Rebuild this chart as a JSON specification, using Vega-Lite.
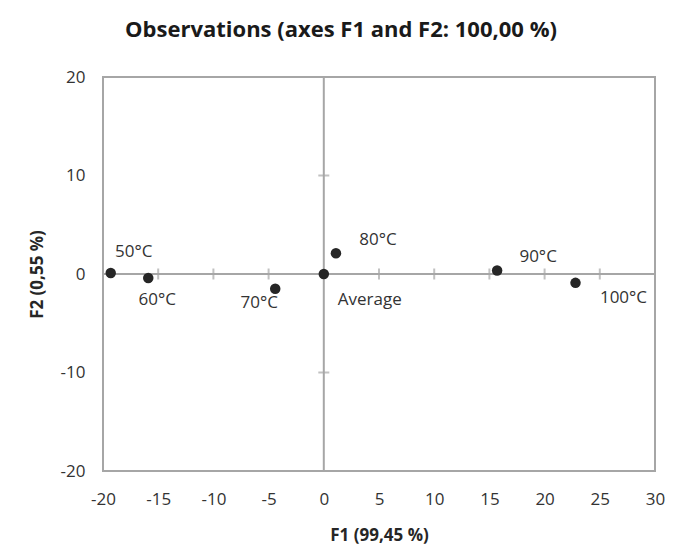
{
  "$schema": "https://vega.github.io/schema/vega-lite/v6.json",
  "width": 552,
  "height": 394,
  "autosize": {"type": "none"},
  "padding": {"left": 103, "top": 77, "right": 25, "bottom": 78},
  "background": "white",
  "title": {
    "text": "Observations (axes F1 and F2: 100,00 %)",
    "font": "Open Sans",
    "fontSize": 22,
    "fontWeight": "bold",
    "color": "#1a1a1a",
    "anchor": "middle",
    "offset": 26,
    "dx": -38
  },
  "datasets": {
    "obs": [
      {"label": "50°C", "F1": -19.3, "F2": 0.1},
      {"label": "60°C", "F1": -15.9, "F2": -0.4},
      {"label": "70°C", "F1": -4.4, "F2": -1.5},
      {"label": "Average", "F1": 0, "F2": 0},
      {"label": "80°C", "F1": 1.1, "F2": 2.1},
      {"label": "90°C", "F1": 15.7, "F2": 0.35},
      {"label": "100°C", "F1": 22.8, "F2": -0.9}
    ],
    "xticks": [
      {"v": -15}, {"v": -10}, {"v": -5}, {"v": 5}, {"v": 10}, {"v": 15}, {"v": 20}, {"v": 25}
    ],
    "yticks": [{"v": -10}, {"v": 10}]
  },
  "config": {
    "view": {"stroke": "#a6a6a6", "strokeWidth": 2},
    "axis": {
      "grid": false,
      "domain": false,
      "ticks": false,
      "labelFlush": false,
      "labelOverlap": false,
      "labelFont": "Open Sans",
      "labelFontSize": 17,
      "labelColor": "#333333",
      "labelExpr": "'' + datum.value",
      "titleFont": "Open Sans",
      "titleFontSize": 17,
      "titleFontWeight": "bold",
      "titleColor": "#262626"
    },
    "text": {"font": "Open Sans", "fontSize": 17, "color": "#333333", "baseline": "middle", "align": "center"}
  },
  "layer": [
    {
      "data": {"values": [{"z": 0}]},
      "mark": {"type": "rule", "color": "#a6a6a6", "strokeWidth": 2},
      "encoding": {"y": {"field": "z", "type": "quantitative", "scale": {"domain": [-20, 20]}}}
    },
    {
      "data": {"values": [{"z": 0}]},
      "mark": {"type": "rule", "color": "#a6a6a6", "strokeWidth": 2},
      "encoding": {"x": {"field": "z", "type": "quantitative", "scale": {"domain": [-20, 30]}}}
    },
    {
      "data": {"name": "xticks"},
      "mark": {"type": "tick", "orient": "vertical", "color": "#a6a6a6", "size": 11, "thickness": 2},
      "encoding": {
        "x": {"field": "v", "type": "quantitative"},
        "y": {"datum": 0, "type": "quantitative"}
      }
    },
    {
      "data": {"name": "yticks"},
      "mark": {"type": "tick", "orient": "horizontal", "color": "#a6a6a6", "size": 11, "thickness": 2},
      "encoding": {
        "y": {"field": "v", "type": "quantitative"},
        "x": {"datum": 0, "type": "quantitative"}
      }
    },
    {
      "data": {"name": "obs"},
      "layer": [
        {
          "mark": {"type": "point", "filled": true, "size": 110, "color": "#262626", "opacity": 1},
          "encoding": {
            "x": {
              "field": "F1", "type": "quantitative",
              "scale": {"domain": [-20, 30], "nice": false, "zero": false},
              "axis": {"values": [-20, -15, -10, -5, 0, 5, 10, 15, 20, 25, 30], "title": "F1 (99,45 %)", "labelPadding": 20, "titlePadding": 20}
            },
            "y": {
              "field": "F2", "type": "quantitative",
              "scale": {"domain": [-20, 20], "nice": false, "zero": false},
              "axis": {"values": [-20, -10, 0, 10, 20], "title": "F2 (0,55 %)", "labelPadding": 18, "titlePadding": 14}
            }
          }
        },
        {"transform": [{"filter": "datum.label == '50°C'"}], "mark": {"type": "text", "dx": 23, "dy": -21}, "encoding": {"x": {"field": "F1", "type": "quantitative"}, "y": {"field": "F2", "type": "quantitative"}, "text": {"field": "label"}}},
        {"transform": [{"filter": "datum.label == '60°C'"}], "mark": {"type": "text", "dx": 9, "dy": 22}, "encoding": {"x": {"field": "F1", "type": "quantitative"}, "y": {"field": "F2", "type": "quantitative"}, "text": {"field": "label"}}},
        {"transform": [{"filter": "datum.label == '70°C'"}], "mark": {"type": "text", "dx": -16, "dy": 14}, "encoding": {"x": {"field": "F1", "type": "quantitative"}, "y": {"field": "F2", "type": "quantitative"}, "text": {"field": "label"}}},
        {"transform": [{"filter": "datum.label == 'Average'"}], "mark": {"type": "text", "dx": 46, "dy": 26}, "encoding": {"x": {"field": "F1", "type": "quantitative"}, "y": {"field": "F2", "type": "quantitative"}, "text": {"field": "label"}}},
        {"transform": [{"filter": "datum.label == '80°C'"}], "mark": {"type": "text", "dx": 42, "dy": -13}, "encoding": {"x": {"field": "F1", "type": "quantitative"}, "y": {"field": "F2", "type": "quantitative"}, "text": {"field": "label"}}},
        {"transform": [{"filter": "datum.label == '90°C'"}], "mark": {"type": "text", "dx": 41, "dy": -14}, "encoding": {"x": {"field": "F1", "type": "quantitative"}, "y": {"field": "F2", "type": "quantitative"}, "text": {"field": "label"}}},
        {"transform": [{"filter": "datum.label == '100°C'"}], "mark": {"type": "text", "dx": 48, "dy": 15}, "encoding": {"x": {"field": "F1", "type": "quantitative"}, "y": {"field": "F2", "type": "quantitative"}, "text": {"field": "label"}}}
      ]
    }
  ]
}
